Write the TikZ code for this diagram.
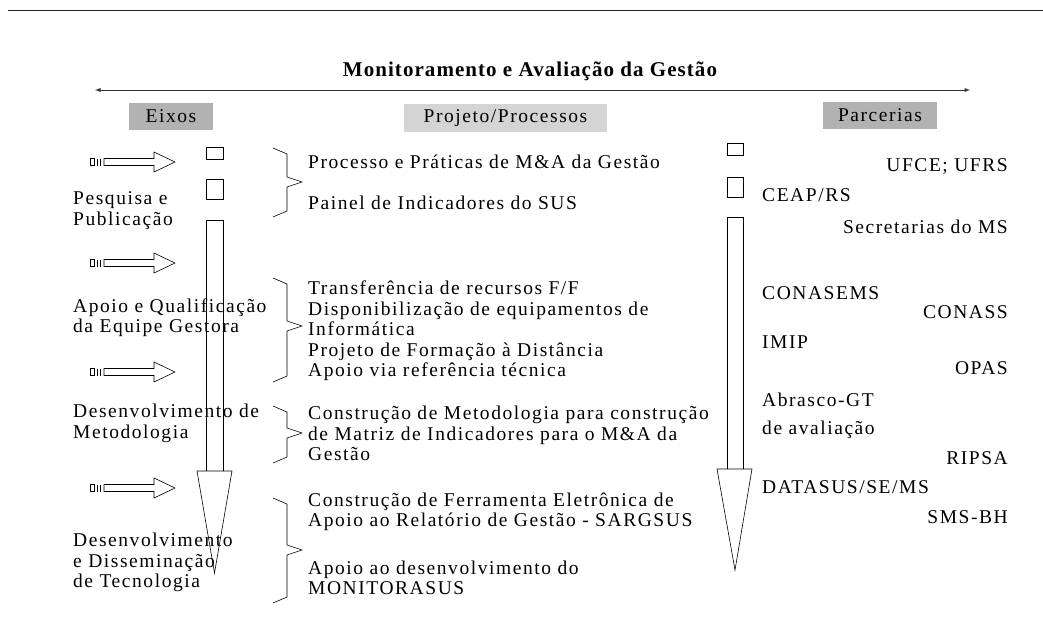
\documentclass[tikz,border=0pt]{standalone}
\usepackage{fontspec}
\setmainfont{Liberation Serif}[LetterSpace=8]
\usepackage{tikz}
\usetikzlibrary{arrows,positioning,calc}
\definecolor{eixogray}{RGB}{178,178,178}
\definecolor{projgray}{RGB}{212,212,212}
\tikzset{
  txt/.style={inner sep=0pt, font=\fontsize{19.5}{20.5}\selectfont, align=left},
  header/.style={txt, align=center, minimum height=27pt},
  parcl/.style={txt, anchor=west},
  parcr/.style={txt, anchor=east},
  outline/.style={draw=black, line width=0.6pt}
}

\begin{document}
\begin{tikzpicture}[x=1pt,y=-1pt]
    \useasboundingbox (0,0) rectangle (1043,624);

    % Top rule
    \draw[line width=1pt, black!85] (8,10) -- (1043,10);

    % Title and span arrow
    \node[inner sep=0pt, font=\fontsize{21}{24}\selectfont\bfseries\addfontfeature{LetterSpace=5}] (titulo) at (530,71) {Monitoramento e Avaliação da Gestão};
    \coordinate (inicio) at (95,90);
    \coordinate (fim) at (970,90);
    \draw[latex-latex, line width=0.9pt, black!80] (inicio) -- (fim);

    % Column headers
    \node[header, fill=eixogray, minimum width=84pt] (eixos) at (171,116.5) {Eixos};
    \node[header, fill=projgray, minimum width=203pt, minimum height=28pt] (projetos) at (505.5,118) {Projeto/Processos};
    \node[header, fill=eixogray, minimum width=114pt] (parcerias) at (880,115.5) {Parcerias};

    % Small arrows (left)
    \foreach \y in {162,263,372,488} {
        \draw[outline] (90,\y-3.5) rectangle (94.5,\y+3.5);
        \draw[outline] (97.5,\y-3.5) -- (97.5,\y+3.5) (100.5,\y-3.5) -- (100.5,\y+3.5);
        \draw[outline] (104,\y-3.5) -- (154,\y-3.5) -- (154,\y-10) -- (175,\y)
            -- (154,\y+10) -- (154,\y+3.5) -- (104,\y+3.5) -- cycle;
    }

    % Vertical arrow (left)
    \draw[outline] (206,147) rectangle (223,159);
    \draw[outline] (206,179) rectangle (223,199);
    \draw[outline] (206,471) -- (206,220) -- (223,220) -- (223,471);
    \draw[outline] (197,471) -- (232,471) -- (214.5,573) -- cycle;

    % Vertical arrow (right)
    \draw[outline] (727,143) rectangle (743,155);
    \draw[outline] (727,177) rectangle (743,197);
    \draw[outline] (727,469) -- (727,217) -- (743,217) -- (743,469);
    \draw[outline] (717,469) -- (752,469) -- (735,570) -- cycle;

    % Braces
    \foreach \ya/\ym/\yb in {148/182/217, 278/326/382, 406/433/463, 498/550/603}
        \draw[outline] (273,\ya) -- (287,\ya+6) -- (287,\ym-5) -- (302,\ym)
            -- (287,\ym+5) -- (287,\yb-6) -- (273,\yb);

    % Eixos
    \node[txt, anchor=west] (pesquisa) at (73,210.5) {Pesquisa e\\Publicação};
    \node[txt, anchor=west] (apoio) at (73,317.5) {Apoio e Qualificação\\da Equipe Gestora};
    \node[txt, anchor=west] (metodo) at (73,423.5) {Desenvolvimento de\\Metodologia};
    \node[txt, anchor=west] (tecno) at (73,562.5) {Desenvolvimento\\e Disseminação\\de Tecnologia};

    % Projeto/Processos
    \node[txt, anchor=west] (praticas) at (308,162) {Processo e Práticas de M\&A da Gestão};
    \node[txt, anchor=west] (painel) at (308,203) {Painel de Indicadores do SUS};
    \node[txt, anchor=west] (transf) at (308,331) {Transferência de recursos F/F\\Disponibilização de equipamentos de\\Informática\\Projeto de Formação à Distância\\Apoio via referência técnica};
    \node[txt, anchor=west] (matriz) at (308,433.5) {Construção de Metodologia para construção\\de Matriz de Indicadores para o M\&A da\\Gestão};
    \node[txt, anchor=west] (sargsus) at (308,512) {Construção de Ferramenta Eletrônica de\\Apoio ao Relatório de Gestão - SARGSUS};
    \node[txt, anchor=west] (monitora) at (308,578) {Apoio ao desenvolvimento do\\MONITORASUS};

    % Parcerias
    \node[parcr] (ufce) at (1008,167) {UFCE; UFRS};
    \node[parcl] (ceap) at (762,195) {CEAP/RS};
    \node[parcr] (secret) at (1008,227) {Secretarias do MS};
    \node[parcl] (conasems) at (762,293) {CONASEMS};
    \node[parcr] (conass) at (1008,312) {CONASS};
    \node[parcl] (imip) at (762,342) {IMIP};
    \node[parcr] (opas) at (1008,368) {OPAS};
    \node[parcl] (abrasco) at (762,400) {Abrasco-GT};
    \node[parcl] (avalia) at (762,430) {de avaliação};
    \node[parcr] (ripsa) at (1008,458) {RIPSA};
    \node[parcl] (datasus) at (762,487) {DATASUS/SE/MS};
    \node[parcr] (smsbh) at (1008,517) {SMS-BH};
\end{tikzpicture}
\end{document}
